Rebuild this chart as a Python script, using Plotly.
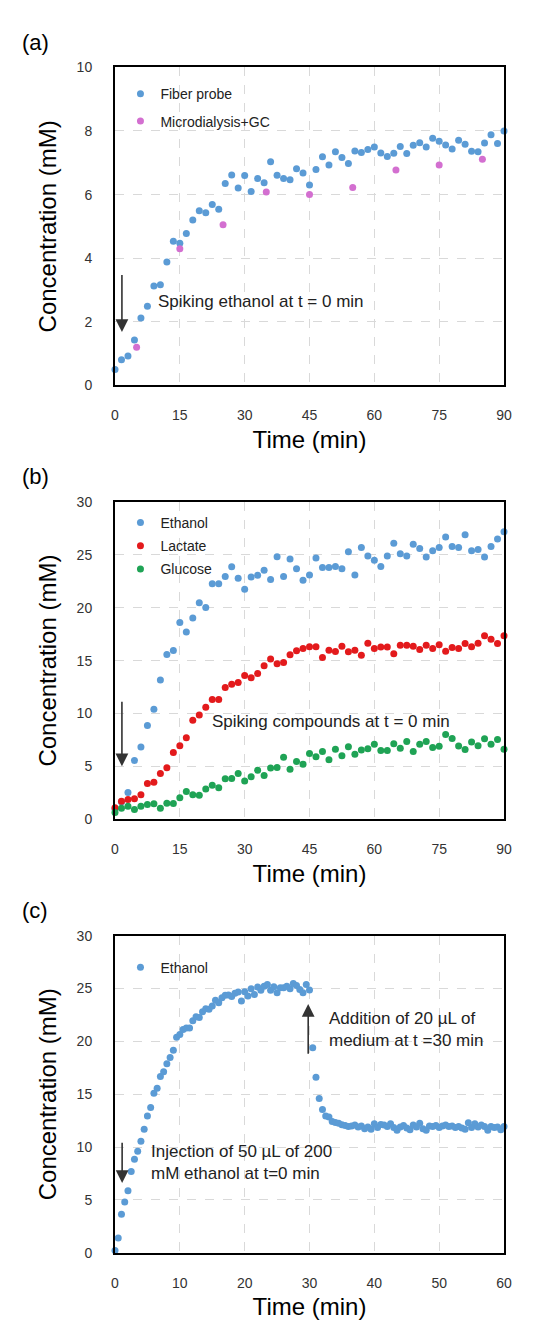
import plotly.graph_objects as go

# ---------------- Data ----------------
# Panel (a)
a_fiber_t = [i * 1.5 for i in range(61)]
a_fiber_c = [0.50, 0.81, 0.93, 1.43, 2.12, 2.49, 3.13, 3.17, 3.88, 4.53, 4.47, 4.78,
             5.20, 5.49, 5.43, 5.69, 5.54, 6.35, 6.62, 6.21, 6.60, 6.10, 6.51, 6.37,
             7.03, 6.61, 6.51, 6.47, 6.81, 6.68, 6.30, 6.79, 7.19, 6.93, 7.35, 7.17,
             6.98, 7.37, 7.32, 7.42, 7.50, 7.31, 7.20, 7.30, 7.51, 7.29, 7.55, 7.63,
             7.50, 7.77, 7.68, 7.56, 7.43, 7.71, 7.58, 7.36, 7.35, 7.62, 7.88, 7.61, 8.00]
a_gc_t = [5, 15, 25, 35, 45, 55, 65, 75, 85]
a_gc_c = [1.20, 4.30, 5.05, 6.08, 6.00, 6.22, 6.77, 6.93, 7.11]

# Panel (b)
b_t = [i * 1.5 for i in range(61)]
b_ethanol = [0.95, 1.65, 2.52, 5.54, 6.83, 8.86, 10.40, 13.17, 15.58, 15.95, 18.60, 17.70,
             19.03, 20.47, 20.03, 22.27, 22.27, 22.96, 23.89, 22.80, 21.74, 22.90, 23.08, 23.55,
             22.68, 24.83, 22.96, 24.60, 23.70, 22.60, 23.10, 24.70, 23.80, 23.80, 23.90, 23.70,
             25.30, 23.10, 25.70, 24.90, 24.50, 23.90, 24.90, 26.10, 25.10, 24.90, 26.00, 25.60,
             24.80, 25.40, 25.70, 26.70, 25.80, 25.70, 26.90, 25.40, 25.50, 24.80, 25.80, 26.50, 27.20]
b_lactate = [1.08, 1.69, 1.85, 1.94, 2.31, 3.38, 3.48, 4.31, 4.86, 6.31, 6.95, 7.69,
             9.35, 9.85, 10.58, 11.32, 11.32, 12.46, 12.77, 12.92, 13.60, 13.38, 13.78, 14.52,
             15.14, 14.70, 14.83, 15.55, 15.92, 16.14, 16.32, 16.32, 15.30, 15.98, 15.86, 16.35,
             15.83, 15.98, 15.51, 16.64, 16.14, 16.29, 16.29, 15.64, 16.45, 16.45, 16.35, 16.04,
             16.45, 16.14, 16.51, 15.89, 16.23, 16.14, 16.61, 16.32, 16.64, 17.35, 17.01, 16.61, 17.35]
b_glucose = [0.62, 1.02, 1.23, 0.92, 1.23, 1.38, 1.45, 1.02, 1.51, 1.48, 2.03, 2.62,
             2.31, 2.25, 2.86, 3.20, 2.98, 3.82, 3.85, 4.31, 3.60, 4.00, 4.62, 4.12,
             4.83, 4.89, 5.85, 4.71, 5.45, 5.20, 6.22, 5.91, 6.40, 5.63, 6.62, 6.00,
             6.86, 6.15, 6.55, 6.65, 7.08, 6.49, 6.49, 7.14, 6.71, 7.35, 6.40, 7.08,
             7.35, 6.77, 6.89, 8.00, 7.63, 6.92, 6.58, 7.29, 6.95, 7.60, 7.08, 7.54, 6.62]

# Panel (c)
c_t = [i * 0.5 for i in range(121)]
c_ethanol = [0.22, 1.40, 3.66, 4.81, 5.87, 7.70, 8.85, 9.60, 10.56, 11.68, 12.95, 13.76,
             15.10, 15.57, 16.67, 17.13, 17.88, 18.47, 19.16, 20.40, 20.65, 21.12, 21.28, 21.28,
             21.96, 22.34, 22.27, 22.80, 23.10, 23.05, 23.36, 23.90, 23.67, 24.14, 24.36, 24.39,
             24.24, 24.55, 24.67, 23.83, 24.70, 24.30, 24.98, 24.45, 25.14, 24.83, 25.23, 25.39,
             24.83, 25.17, 24.61, 25.08, 25.08, 25.23, 24.98, 25.48, 25.29, 24.92, 24.61, 25.39,
             24.86, 19.41, 16.60, 14.61, 13.57, 12.95, 12.86, 12.42, 12.33, 12.27, 12.11,
             12.05, 11.95, 12.00, 12.10, 11.90, 12.00, 11.75, 11.90, 11.70, 12.20, 11.85, 12.15,
             12.10, 11.95, 12.20, 11.85, 11.60, 11.90, 12.05, 11.80, 11.65, 12.10, 11.90, 12.25,
             11.75, 11.60, 12.00, 11.95, 12.05, 11.85, 12.00, 12.10, 11.95, 12.00, 11.85, 11.95,
             11.80, 11.70, 12.30, 11.85, 12.20, 11.90, 12.10, 11.95, 11.60, 11.95, 11.85, 11.90,
             11.65, 11.95]

a_xticks = [0, 15, 30, 45, 60, 75, 90]
a_yticks = [0, 2, 4, 6, 8, 10]
b_yticks = [0, 5, 10, 15, 20, 25, 30]
c_xticks = [0, 10, 20, 30, 40, 50, 60]

# ---------------- Styles ----------------
BLUE = "#5B9BD5"
PINK = "#D36FD0"
RED = "#E31A1C"
GREEN = "#1FA355"
FONT = "Liberation Sans, Arial, sans-serif"
MS = 7

fig = go.Figure()


def add(x, y, name, color, xa, ya, legend, group):
    fig.add_trace(go.Scatter(
        x=x, y=y, mode="markers", name=name,
        marker=dict(color=color, size=MS, line=dict(width=0)),
        xaxis=xa, yaxis=ya, legend=legend, legendgroup=group,
        cliponaxis=False,
    ))


add(a_fiber_t, a_fiber_c, "Fiber probe", BLUE, "x", "y", "legend", "a1")
add(a_gc_t, a_gc_c, "Microdialysis+GC", PINK, "x", "y", "legend", "a2")
add(b_t, b_ethanol, "Ethanol", BLUE, "x2", "y2", "legend2", "b1")
add(b_t, b_lactate, "Lactate", RED, "x2", "y2", "legend2", "b2")
add(b_t, b_glucose, "Glucose", GREEN, "x2", "y2", "legend2", "b3")
add(c_t, c_ethanol, "Ethanol", BLUE, "x3", "y3", "legend3", "c1")

H = 1321.0


def ydom(top, bottom):
    return [1 - bottom / H, 1 - top / H]


def xaxis(rng, ticks, anchor):
    return dict(
        domain=[0, 1], anchor=anchor, range=rng, tickvals=ticks,
        showgrid=True, gridcolor="#d9d9d9", griddash="dash", gridwidth=1,
        zeroline=False, showline=True, linecolor="black", linewidth=2, mirror=True,
        ticks="outside", ticklen=16, tickcolor="rgba(0,0,0,0)",
        tickfont=dict(size=14, color="#333", family=FONT),
        title=dict(text="Time (min)", font=dict(size=24, color="black", family=FONT), standoff=9),
    )


def yaxis(rng, ticks, anchor, dom):
    return dict(
        domain=dom, anchor=anchor, range=rng, tickvals=ticks,
        showgrid=True, gridcolor="#d9d9d9", griddash="dash", gridwidth=1,
        zeroline=False, showline=True, linecolor="black", linewidth=2, mirror=True,
        ticks="outside", ticklen=18, tickcolor="rgba(0,0,0,0)",
        tickfont=dict(size=14, color="#333", family=FONT),
        title=dict(text="Concentration (mM)", font=dict(size=24, color="black", family=FONT), standoff=13),
    )


def legend(ytop_px, gap):
    return dict(
        x=0.014, xanchor="left", y=1 - ytop_px / H, yanchor="top", yref="paper",
        bgcolor="rgba(0,0,0,0)", borderwidth=0,
        font=dict(size=14, color="#222", family=FONT),
        traceorder="grouped", tracegroupgap=gap, itemsizing="trace",
    )


fig.update_layout(
    width=559, height=1321,
    margin=dict(l=107, r=63, t=0, b=0),
    plot_bgcolor="white", paper_bgcolor="white",
    font=dict(family=FONT),
    xaxis=xaxis([0, 90], a_xticks, "y"),
    yaxis=yaxis([0, 10], a_yticks, "x", ydom(52, 374)),
    xaxis2=xaxis([0, 90], a_xticks, "y2"),
    yaxis2=yaxis([0, 30], b_yticks, "x2", ydom(492, 813)),
    xaxis3=xaxis([0, 60], c_xticks, "y3"),
    yaxis3=yaxis([0, 30], b_yticks, "x3", ydom(931, 1252)),
    legend=legend(63, 6),
    legend2=legend(497, 2),
    legend3=legend(947, 2),
)

annots = []
# panel labels
for lbl, ypx in [("(a)", 27), ("(b)", 466), ("(c)", 905)]:
    annots.append(dict(text=lbl, xref="paper", yref="paper", x=-0.245, y=1 - ypx / H,
                       xanchor="left", yanchor="middle", showarrow=False,
                       font=dict(size=22, color="black", family=FONT)))

ARROW = dict(showarrow=True, arrowhead=2, arrowsize=1.6, arrowwidth=1.6, arrowcolor="#333", text="")
# panel (a)
annots.append(dict(x=1.6, y=1.68, ax=1.6, ay=3.52, xref="x", yref="y", axref="x", ayref="y", **ARROW))
annots.append(dict(text="Spiking ethanol at t = 0 min", x=9.6, y=2.64, xref="x", yref="y",
                   xanchor="left", yanchor="middle", showarrow=False,
                   font=dict(size=17, color="#222", family=FONT)))
# panel (b)
annots.append(dict(x=1.6, y=5.0, ax=1.6, ay=11.24, xref="x2", yref="y2", axref="x2", ayref="y2", **ARROW))
annots.append(dict(text="Spiking compounds at t = 0 min", x=22.0, y=9.25, xref="x2", yref="y2",
                   xanchor="left", yanchor="middle", showarrow=False,
                   font=dict(size=17, color="#222", family=FONT)))
# panel (c)
annots.append(dict(x=1.1, y=6.6, ax=1.1, ay=10.56, xref="x3", yref="y3", axref="x3", ayref="y3", **ARROW))
annots.append(dict(text="Injection of 50 µL of 200<br>mM ethanol at t=0 min", x=5.2, y=8.5,
                   xref="x3", yref="y3", xanchor="left", yanchor="middle", align="left",
                   showarrow=False, font=dict(size=17, color="#222", family=FONT)))
annots.append(dict(x=29.8, y=23.55, ax=29.8, ay=18.7, xref="x3", yref="y3", axref="x3", ayref="y3", **ARROW))
annots.append(dict(text="Addition of 20 µL of<br>medium at t =30 min", x=32.7, y=21.1,
                   xref="x3", yref="y3", xanchor="left", yanchor="middle", align="left",
                   showarrow=False, font=dict(size=17, color="#222", family=FONT)))

fig.update_layout(annotations=annots)

fig.write_html("out.html")
